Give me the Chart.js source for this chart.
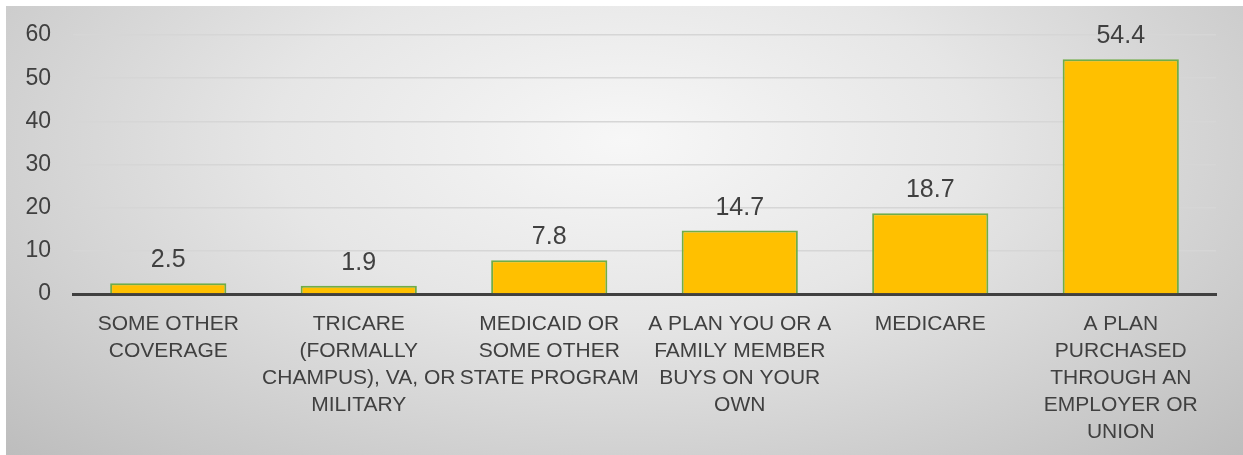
<!DOCTYPE html>
<html>
<head>
<meta charset="utf-8">
<script src="https://cdn.jsdelivr.net/npm/chart.js"></script>
<style>
  html, body { margin: 0; padding: 0; background: #fff; }
  #wrap {
    position: absolute; left: 6px; top: 6px; width: 1237px; height: 449px;
    background: radial-gradient(ellipse farthest-corner at 50% 30%, #f7f7f7 0%, #e6e6e6 40%, #bdbdbd 100%);
  }
</style>
</head>
<body>
<div id="wrap"><canvas id="myChart"></canvas></div>
<script>
const categories = [
  ['SOME OTHER', 'COVERAGE'],
  ['TRICARE', '(FORMALLY', 'CHAMPUS), VA, OR', 'MILITARY'],
  ['MEDICAID OR', 'SOME OTHER', 'STATE PROGRAM'],
  ['A PLAN YOU OR A', 'FAMILY MEMBER', 'BUYS ON YOUR', 'OWN'],
  ['MEDICARE'],
  ['A PLAN', 'PURCHASED', 'THROUGH AN', 'EMPLOYER OR', 'UNION']
];
const values = [2.5, 1.9, 7.8, 14.7, 18.7, 54.4];
const yTicks = [0, 10, 20, 30, 40, 50, 60];

const textColor = '#404040';
const fontName = '"Liberation Sans", Arial, sans-serif';

// value labels above the bars
const barLabels = {
  id: 'barLabels',
  afterDatasetsDraw(chart) {
    const ctx = chart.ctx;
    const meta = chart.getDatasetMeta(0);
    ctx.save();
    ctx.font = '25px ' + fontName;
    ctx.fillStyle = textColor;
    ctx.textAlign = 'center';
    ctx.textBaseline = 'alphabetic';
    meta.data.forEach(function (bar, i) {
      ctx.fillText(String(values[i]), bar.x, bar.y - 16);
    });
    ctx.restore();
  }
};

const data = {
  labels: categories,
  datasets: [{
    data: values,
    backgroundColor: '#FFC000',
    borderColor: '#70AD47',
    borderWidth: 2,
    categoryPercentage: 1,
    barPercentage: 0.61
  }]
};

const config = {
  type: 'bar',
  data: data,
  plugins: [barLabels],
  options: {
    responsive: true,
    maintainAspectRatio: false,
    animation: false,
    layout: { padding: { top: 29, right: 27, left: 0, bottom: 0 } },
    plugins: {
      legend: { display: false },
      tooltip: { enabled: false }
    },
    scales: {
      x: {
        afterFit(scale) { scale.height = 161; },
        grid: { display: false, drawTicks: false },
        border: { display: true, color: '#404040', width: 3 },
        ticks: {
          color: textColor,
          padding: 17,
          maxRotation: 0,
          autoSkip: false,
          font: { family: fontName, size: 21, lineHeight: 1.28 }
        }
      },
      y: {
        min: 0,
        max: 60,
        afterFit(scale) { scale.width = 67; },
        afterBuildTicks(scale) { scale.ticks = yTicks.map(v => ({ value: v })); },
        grid: {
          drawTicks: true,
          tickLength: 22,
          tickColor: 'rgba(0,0,0,0)',
          lineWidth: 1.5,
          color: ctx => ctx.tick && ctx.tick.value === 0 ? 'rgba(0,0,0,0)' : '#d6d6d6'
        },
        border: { display: false },
        ticks: {
          color: textColor,
          padding: 0,
          font: { family: fontName, size: 23 }
        }
      }
    }
  }
};

var myChart = new Chart(document.getElementById('myChart'), config);
</script>
</body>
</html>
